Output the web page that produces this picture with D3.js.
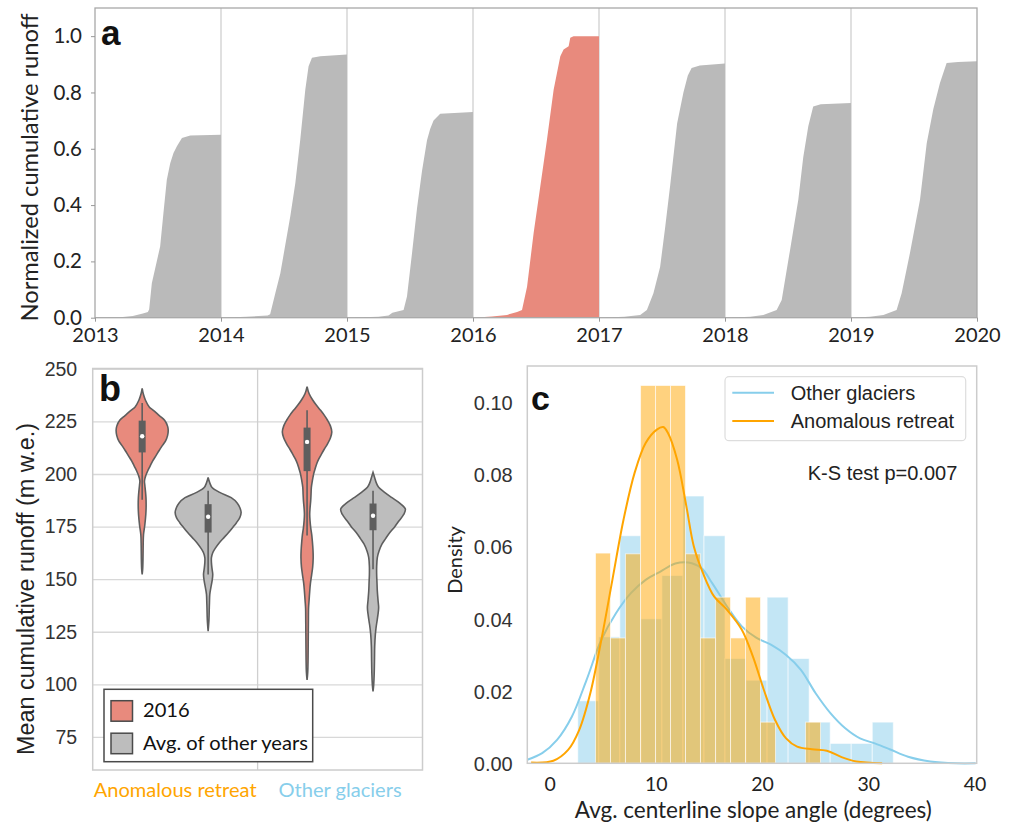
<!DOCTYPE html>
<html>
<head>
<meta charset="utf-8">
<script src="https://cdn.jsdelivr.net/npm/d3@7"></script>
<style>
  body { margin: 0; background: #fff; }
  svg { display: block; }
</style>
</head>
<body>
<svg id="fig" width="1012" height="823"></svg>
<script>
// ---------- panel a: normalized cumulative runoff per year ([fraction of year, value]) ----------
const runYears = [2013, 2014, 2015, 2016, 2017, 2018, 2019];
const yearTicks = [2013, 2014, 2015, 2016, 2017, 2018, 2019, 2020];
const runTicks = [0, 0.2, 0.4, 0.6, 0.8, 1.0];
const run2013 = [[0,0],[0.2,0.002],[0.3,0.006],[0.38,0.015],[0.42,0.02],[0.43,0.03],[0.451,0.122],[0.517,0.253],[0.543,0.371],[0.57,0.49],[0.597,0.549],[0.623,0.585],[0.65,0.609],[0.69,0.638],[0.756,0.647],[1,0.65]];
const run2014 = [[0,0],[0.2,0.003],[0.37,0.008],[0.39,0.012],[0.431,0.087],[0.471,0.158],[0.55,0.36],[0.59,0.478],[0.629,0.632],[0.669,0.81],[0.695,0.893],[0.722,0.923],[0.788,0.929],[1,0.935]];
const run2015 = [[0,0],[0.25,0.003],[0.33,0.008],[0.36,0.018],[0.449,0.027],[0.476,0.075],[0.516,0.229],[0.556,0.39],[0.595,0.52],[0.635,0.63],[0.66,0.67],[0.687,0.7],[0.74,0.724],[1,0.731]];
const run2016 = [[0,0],[0.15,0.004],[0.27,0.01],[0.35,0.02],[0.389,0.027],[0.429,0.11],[0.481,0.3],[0.534,0.466],[0.587,0.632],[0.64,0.81],[0.693,0.929],[0.719,0.953],[0.759,0.964],[0.772,0.994],[0.798,1.0],[1,1.0]];
const run2017 = [[0,0],[0.2,0.003],[0.327,0.01],[0.38,0.027],[0.432,0.087],[0.485,0.18],[0.525,0.32],[0.565,0.47],[0.62,0.69],[0.67,0.8],[0.705,0.86],[0.735,0.887],[0.8,0.896],[1,0.903]];
const run2018 = [[0,0],[0.2,0.003],[0.304,0.01],[0.41,0.027],[0.45,0.063],[0.516,0.24],[0.582,0.42],[0.621,0.57],[0.661,0.68],[0.7,0.75],[0.76,0.758],[1,0.763]];
const run2019 = [[0,0],[0.15,0.003],[0.257,0.01],[0.362,0.027],[0.402,0.087],[0.468,0.23],[0.548,0.42],[0.601,0.62],[0.653,0.74],[0.706,0.834],[0.759,0.905],[0.85,0.908],[1,0.911]];
const runCurves = [run2013, run2014, run2015, run2016, run2017, run2018, run2019];

// ---------- panel b: violins ([runoff, relative density]) ----------
const groups = ["Anomalous retreat", "Other glaciers"];
const hues = ["2016", "Avg. of other years"];
const runoffTicks = [75, 100, 125, 150, 175, 200, 225, 250];
const violAnom2016 = [[241,0],[238,0.04],[235.3,0.1],[232,0.22],[230.5,0.34],[228,0.52],[225.8,0.68],[223,0.77],[221,0.79],[218.5,0.77],[216,0.71],[213.5,0.6],[211.3,0.51],[209,0.42],[206.5,0.32],[204,0.24],[201.8,0.17],[199.5,0.11],[197,0.07],[195,0.08],[192,0.1],[189,0.115],[185,0.12],[181,0.11],[176,0.08],[171.3,0.04],[166,0.03],[160,0.025],[155,0.015],[152.5,0]];
const violAnomOther = [[198.6,0],[196,0.05],[193.8,0.12],[191.5,0.35],[189,0.7],[186.5,0.88],[184.3,0.96],[182,1.0],[179.5,0.96],[177.1,0.86],[174.7,0.74],[172.4,0.62],[170,0.48],[167.6,0.34],[165,0.22],[162.8,0.14],[160.5,0.1],[158.1,0.1],[155,0.12],[152.5,0.14],[149.4,0.12],[146,0.08],[143,0.05],[139,0.04],[136.6,0.035],[131,0.025],[125.5,0]];
const violOther2016 = [[241.8,0],[238.5,0.06],[235.4,0.17],[233,0.28],[230.5,0.41],[228,0.53],[225.8,0.62],[223,0.71],[220.2,0.75],[217.5,0.71],[214.6,0.62],[212,0.52],[209.8,0.44],[207.5,0.36],[205,0.29],[202.5,0.24],[200.3,0.2],[197,0.16],[193.9,0.13],[190.5,0.12],[187.5,0.11],[184,0.09],[181.1,0.08],[178,0.09],[174.7,0.11],[171.5,0.14],[168.3,0.16],[164,0.18],[160.3,0.185],[156,0.17],[152.4,0.14],[148,0.1],[144.4,0.08],[140,0.06],[136.5,0.045],[130,0.04],[120.6,0.035],[112,0.03],[106,0.02],[102.3,0]];
const violOtherOther = [[201,0],[198.5,0.05],[196,0.1],[193.9,0.17],[191.5,0.35],[189.1,0.56],[186.5,0.8],[183.6,0.98],[181,0.93],[178,0.79],[175.2,0.66],[172.4,0.51],[169.5,0.38],[166.9,0.27],[163.5,0.18],[160.5,0.13],[156,0.11],[152.5,0.11],[148.5,0.12],[144.6,0.13],[140.5,0.15],[136.6,0.17],[133.5,0.15],[130.2,0.12],[127,0.09],[123.9,0.07],[118,0.05],[112.8,0.045],[105,0.035],[100,0.02],[96.9,0]];
// [whisker low, q1, median, q3, whisker high]
const boxAnom2016 = [188, 210.5, 218.2, 225.6, 234];
const boxAnomOther = [152.5, 172.4, 179.9, 185.9, 192.3];
const boxOther2016 = [171, 201.6, 215.5, 222.3, 230.5];
const boxOtherOther = [155, 173.5, 180.4, 186.2, 192.3];

// ---------- panel c: histograms + KDE ----------
const slopeTicks = [0, 10, 20, 30, 40];
const densTicks = [0, 0.02, 0.04, 0.06, 0.08, 0.10];
const otherEdges = [2.65, 4.63, 6.61, 8.59, 10.57, 12.55, 14.53, 16.51, 18.49, 20.47, 22.45, 24.43, 26.41, 28.39, 30.37, 32.35];
const otherDens = [0.0173, 0.035, 0.063, 0.040, 0.052, 0.074, 0.063, 0.029, 0.023, 0.046, 0.029, 0.0114, 0.0055, 0.0055, 0.0114];
const anomEdges = [4.32, 5.73, 7.14, 8.56, 9.97, 11.38, 12.79, 14.20, 15.62, 17.03, 18.44, 19.85, 21.26, 22.68, 24.09, 25.50];
const anomDens = [0.0582, 0.0347, 0.058, 0.1046, 0.1046, 0.1046, 0.058, 0.0347, 0.046, 0.0347, 0.046, 0.0114, 0, 0, 0.0114];
const otherKde = [[-2.1,0.001],[-0.7,0.0028],[0.7,0.0065],[2.09,0.0129],[3.48,0.0231],[4.87,0.0342],[6.26,0.0416],[7.65,0.0471],[9.04,0.0508],[10.43,0.0531],[11.83,0.0553],[13.04,0.0556],[14.26,0.0541],[15.3,0.0499],[16.7,0.0434],[18.09,0.0379],[19.48,0.0347],[20.87,0.0328],[22.26,0.03],[23.65,0.0259],[25.04,0.0194],[26.43,0.0139],[27.83,0.0097],[29.22,0.0069],[30.61,0.0055],[32.0,0.0039],[33.74,0.0018],[35.83,0.0005],[38.26,0],[40.1,0]];
const anomKde = [[-1.74,0.0002],[0.35,0.0007],[1.74,0.0037],[2.78,0.0092],[3.83,0.0194],[4.87,0.0342],[5.91,0.0508],[6.96,0.0675],[8.0,0.0804],[9.04,0.0887],[10.09,0.0924],[10.7,0.0931],[11.13,0.0915],[12.0,0.0841],[12.87,0.0712],[13.57,0.0601],[14.43,0.0527],[15.48,0.0462],[16.7,0.0425],[18.09,0.037],[19.13,0.0296],[20.17,0.0203],[21.22,0.012],[22.26,0.0069],[23.3,0.0046],[24.7,0.0039],[26.09,0.0035],[27.48,0.0017],[28.87,0.0005],[31.3,0]];

const CAL = "Lato, 'Open Sans', sans-serif";
const ARI = "'Liberation Sans', Arial, sans-serif";
const RED = "#e88a7d", GREY = "#bababa", LGREY = "#bdbdbd";
const SKY = "#87ceeb", ORANGE = "#ffa500";

const svg = d3.select("#fig");

// scale the font so the text fills a measured width
function fitWidth(sel, target) {
  const len = sel.node().getComputedTextLength();
  const fs = parseFloat(sel.attr("font-size")) * target / len;
  sel.attr("font-size", fs);
  return fs;
}

// ================= panel a =================
const ax = d3.scaleLinear().domain([2013, 2020]).range([95, 977]);
const ay = d3.scaleLinear().domain([0, 1.1]).range([317.7, 8]);
const ga = svg.append("g");

ga.selectAll(".yline").data(yearTicks.slice(1, -1)).join("line")
  .attr("x1", d => ax(d)).attr("x2", d => ax(d))
  .attr("y1", ay(1.1)).attr("y2", ay(0))
  .attr("stroke", "#d0d0d0").attr("stroke-width", 1.3);

ga.selectAll(".run").data(runYears).join("path")
  .attr("d", (yr, i) => d3.area()
      .x(d => ax(yr + d[0])).y0(ay(0)).y1(d => ay(d[1]))(runCurves[i]))
  .attr("fill", yr => yr === 2016 ? RED : GREY);

ga.append("rect")
  .attr("x", ax(2013)).attr("y", ay(1.1))
  .attr("width", ax(2020) - ax(2013)).attr("height", ay(0) - ay(1.1))
  .attr("fill", "none").attr("stroke", "#a8a8a8").attr("stroke-width", 1.3);

const aLeft = ga.append("g").attr("transform", `translate(${ax(2013)},0)`)
  .call(d3.axisLeft(ay).tickValues(runTicks).tickFormat(d3.format(".1f")).tickSize(4).tickPadding(9));
aLeft.select(".domain").remove();
aLeft.selectAll("line").attr("stroke", "#999");
aLeft.selectAll("text").attr("font-family", CAL).attr("font-size", 20.5).attr("fill", "#222");

const aBottom = ga.append("g").attr("transform", `translate(0,${ay(0)})`)
  .call(d3.axisBottom(ax).tickValues(yearTicks).tickFormat(d3.format("d")).tickSize(4));
aBottom.select(".domain").remove();
aBottom.selectAll("line").attr("stroke", "#999");
aBottom.selectAll("text").attr("font-family", CAL).attr("font-size", 20).attr("fill", "#222")
  .attr("y", 24.5).attr("dy", 0);

const aLab = ga.append("text").text("Normalized cumulative runoff")
  .attr("transform", "translate(37.5,167.5) rotate(-90)")
  .attr("text-anchor", "middle").attr("font-family", CAL).attr("font-size", 22).attr("fill", "#222");
fitWidth(aLab, 308);

ga.append("text").text("a").attr("x", 101).attr("y", 45)
  .attr("font-family", ARI).attr("font-weight", "bold").attr("font-size", 35).attr("fill", "#111");

// ================= panel b =================
const bx = d3.scaleBand().domain(groups).range([92.7, 422.5]);
const by = d3.scaleLinear().domain([59.5, 250.4]).range([770, 368.5]);
const bw = d3.scaleLinear().domain([0, 1]).range([0, bx.bandwidth() * 0.2]);
const hueOff = d3.scaleOrdinal().domain(hues).range([-bx.bandwidth() * 0.2, bx.bandwidth() * 0.2]);
const hueFill = d3.scaleOrdinal().domain(hues).range([RED, LGREY]);
const gb = svg.append("g");

gb.selectAll(".grid").data(runoffTicks).join("line")
  .attr("x1", bx.range()[0]).attr("x2", bx.range()[1])
  .attr("y1", d => by(d)).attr("y2", d => by(d))
  .attr("stroke", "#d8d8d8").attr("stroke-width", 1.3);
gb.append("line")
  .attr("x1", bx(groups[1])).attr("x2", bx(groups[1]))
  .attr("y1", by.range()[1]).attr("y2", by.range()[0])
  .attr("stroke", "#cfcfcf").attr("stroke-width", 1.3);
gb.append("rect")
  .attr("x", bx.range()[0]).attr("y", by.range()[1])
  .attr("width", bx.range()[1] - bx.range()[0]).attr("height", by.range()[0] - by.range()[1])
  .attr("fill", "none").attr("stroke", "#cccccc").attr("stroke-width", 1.5);

const violins = [
  { group: groups[0], hue: hues[0], prof: violAnom2016, box: boxAnom2016 },
  { group: groups[0], hue: hues[1], prof: violAnomOther, box: boxAnomOther },
  { group: groups[1], hue: hues[0], prof: violOther2016, box: boxOther2016 },
  { group: groups[1], hue: hues[1], prof: violOtherOther, box: boxOtherOther }
];
const cxOf = v => bx(v.group) + bx.bandwidth() / 2 + hueOff(v.hue);

const vg = gb.selectAll(".violin").data(violins).join("g");
vg.append("path")
  .attr("d", v => d3.area().curve(d3.curveCatmullRom)
      .y(d => by(d[0])).x0(d => cxOf(v) - bw(d[1])).x1(d => cxOf(v) + bw(d[1]))(v.prof))
  .attr("fill", v => hueFill(v.hue)).attr("stroke", "#5e5e5e").attr("stroke-width", 1.6);
vg.append("line")
  .attr("x1", cxOf).attr("x2", cxOf)
  .attr("y1", v => by(v.box[0])).attr("y2", v => by(v.box[4]))
  .attr("stroke", "#5e5e5e").attr("stroke-width", 1.6);
vg.append("line")
  .attr("x1", cxOf).attr("x2", cxOf)
  .attr("y1", v => by(v.box[1])).attr("y2", v => by(v.box[3]))
  .attr("stroke", "#5e5e5e").attr("stroke-width", 7);
vg.append("circle")
  .attr("cx", cxOf).attr("cy", v => by(v.box[2])).attr("r", 2.2).attr("fill", "#fff");

const bLeft = gb.append("g").attr("transform", `translate(${bx.range()[0]},0)`)
  .call(d3.axisLeft(by).tickValues(runoffTicks).tickSize(0).tickPadding(15.5));
bLeft.select(".domain").remove();
bLeft.selectAll("text").attr("font-family", ARI).attr("font-size", 19.5).attr("fill", "#333").attr("dy", "0.3em");

const groupColor = d3.scaleOrdinal().domain(groups).range([ORANGE, SKY]);
const catLabs = gb.selectAll(".cat").data(groups).join("text")
  .text(d => d)
  .attr("x", d => bx(d) + bx.bandwidth() / 2).attr("y", 797)
  .attr("text-anchor", "middle").attr("font-family", CAL).attr("font-size", 21)
  .attr("fill", d => groupColor(d));
const catFs = fitWidth(catLabs.filter((d, i) => i === 0), 163);
catLabs.attr("font-size", catFs);

const bLab = gb.append("text").text("Mean cumulative runoff (m w.e.)")
  .attr("transform", "translate(33.5,589) rotate(-90)")
  .attr("text-anchor", "middle").attr("font-family", ARI).attr("font-size", 22).attr("fill", "#222");
fitWidth(bLab, 332);

// legend b
const lb = gb.append("g");
lb.append("rect").attr("x", 104).attr("y", 689.3).attr("width", 208.7).attr("height", 72.4)
  .attr("fill", "#fff").attr("stroke", "#4a4a4a").attr("stroke-width", 1.5);
const lbItems = lb.selectAll(".it").data(hues).join("g")
  .attr("transform", (d, i) => `translate(0,${i * 32.5})`);
lbItems.append("rect").attr("x", 111).attr("y", 700.7).attr("width", 21.5).attr("height", 20.5)
  .attr("fill", d => hueFill(d)).attr("stroke", "#4a4a4a").attr("stroke-width", 1.5);
const lbText = lbItems.append("text").text(d => d).attr("x", 143).attr("y", 717)
  .attr("font-family", CAL).attr("font-size", 20).attr("fill", "#111");
const lbFs = fitWidth(lbText.filter((d, i) => i === 1), 165);
lbText.attr("font-size", lbFs);

gb.append("text").text("b").attr("x", 99).attr("y", 401)
  .attr("font-family", ARI).attr("font-weight", "bold").attr("font-size", 36).attr("fill", "#111");

// ================= panel c =================
const cx = d3.scaleLinear().domain([-2.1, 40.2]).range([527.3, 976.7]);
const cy = d3.scaleLinear().domain([0, 0.11]).range([763.3, 366]);
const gc = svg.append("g");

const bins = (edges, dens) => dens.map((h, i) => ({ x0: edges[i], x1: edges[i + 1], h })).filter(b => b.h > 0);
const kdeLine = d3.line().curve(d3.curveCatmullRom).x(d => cx(d[0])).y(d => cy(d[1]));

function drawHist(edges, dens, color) {
  gc.append("g").selectAll("rect").data(bins(edges, dens)).join("rect")
    .attr("x", b => cx(b.x0)).attr("width", b => cx(b.x1) - cx(b.x0))
    .attr("y", b => cy(b.h)).attr("height", b => cy(0) - cy(b.h))
    .attr("fill", color).attr("fill-opacity", 0.5)
    .attr("stroke", "#fff").attr("stroke-opacity", 0.6).attr("stroke-width", 1);
}
drawHist(otherEdges, otherDens, SKY);
gc.append("path").attr("d", kdeLine(otherKde)).attr("fill", "none").attr("stroke", SKY).attr("stroke-width", 2);
drawHist(anomEdges, anomDens, ORANGE);
gc.append("path").attr("d", kdeLine(anomKde)).attr("fill", "none").attr("stroke", ORANGE).attr("stroke-width", 2);

gc.append("rect")
  .attr("x", cx.range()[0]).attr("y", cy.range()[1])
  .attr("width", cx.range()[1] - cx.range()[0]).attr("height", cy.range()[0] - cy.range()[1])
  .attr("fill", "none").attr("stroke", "#cccccc").attr("stroke-width", 1.5);

const cLeft = gc.append("g").attr("transform", `translate(${cx.range()[0]},0)`)
  .call(d3.axisLeft(cy).tickValues(densTicks).tickFormat(d3.format(".2f")).tickSize(0).tickPadding(14.6));
cLeft.select(".domain").remove();
cLeft.selectAll("text").attr("font-family", ARI).attr("font-size", 20).attr("fill", "#333").attr("dy", "0.36em");

const cBottom = gc.append("g").attr("transform", `translate(0,${cy.range()[0]})`)
  .call(d3.axisBottom(cx).tickValues(slopeTicks).tickFormat(d3.format("d")).tickSize(0));
cBottom.select(".domain").remove();
cBottom.selectAll("text").attr("font-family", CAL).attr("font-size", 19.5).attr("fill", "#222")
  .attr("y", 27.5).attr("dy", 0);

gc.append("text").text("Avg. centerline slope angle (degrees)")
  .attr("x", 753.3).attr("y", 818).attr("text-anchor", "middle")
  .attr("font-family", CAL).attr("font-size", 22.5).attr("fill", "#222");
gc.append("text").text("Density")
  .attr("transform", "translate(462,560) rotate(-90)").attr("text-anchor", "middle")
  .attr("font-family", CAL).attr("font-size", 20).attr("fill", "#222");

// legend c
const lc = gc.append("g");
lc.append("rect").attr("x", 725).attr("y", 376.7).attr("width", 240.7).attr("height", 64).attr("rx", 4)
  .attr("fill", "#fff").attr("fill-opacity", 0.8).attr("stroke", "#dddddd").attr("stroke-width", 1.2);
const lcItems = lc.selectAll(".it").data([{ n: "Other glaciers", c: SKY }, { n: "Anomalous retreat", c: ORANGE }])
  .join("g").attr("transform", (d, i) => `translate(0,${i * 28.3})`);
lcItems.append("line").attr("x1", 732.3).attr("x2", 774).attr("y1", 392.7).attr("y2", 392.7)
  .attr("stroke", d => d.c).attr("stroke-width", 2);
lcItems.append("text").text(d => d.n).attr("x", 790.7).attr("y", 399.8)
  .attr("font-family", ARI).attr("font-size", 20).attr("fill", "#222");

gc.append("text").text("K-S test p=0.007").attr("x", 957.3).attr("y", 480).attr("text-anchor", "end")
  .attr("font-family", ARI).attr("font-size", 20).attr("fill", "#222");

gc.append("text").text("c").attr("x", 531).attr("y", 410)
  .attr("font-family", ARI).attr("font-weight", "bold").attr("font-size", 34).attr("fill", "#111");
</script>
</body>
</html>
